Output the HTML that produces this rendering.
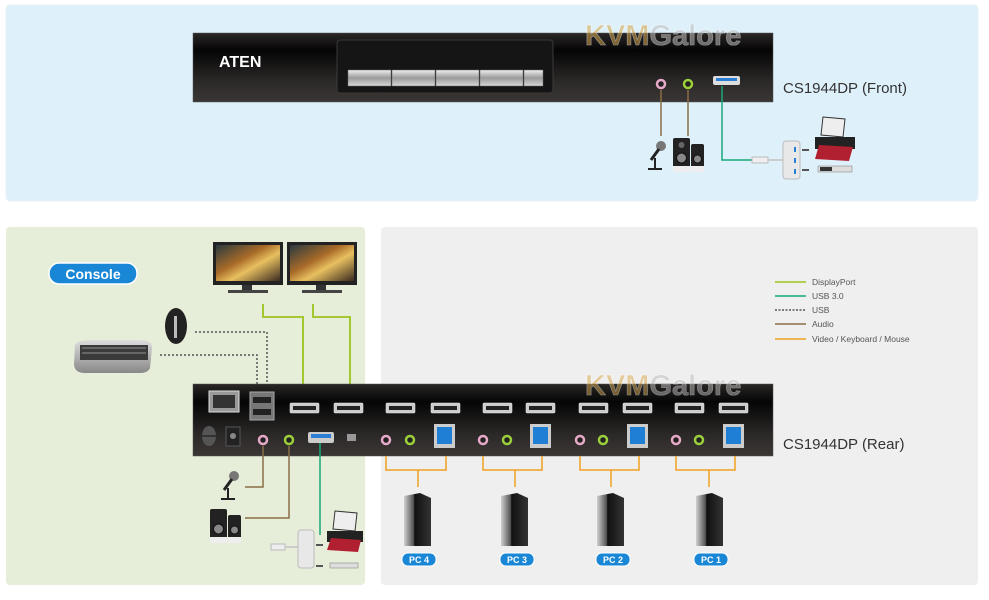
<!DOCTYPE html>
<html><head><meta charset="utf-8"><style>
html,body{margin:0;padding:0;background:#fff;width:989px;height:600px;overflow:hidden}
svg{display:block}
text{font-family:"Liberation Sans",sans-serif}
</style></head><body>
<svg width="989" height="600" viewBox="0 0 989 600" xmlns="http://www.w3.org/2000/svg">
<defs>
<linearGradient id="dev" x1="0" y1="0" x2="0" y2="1">
<stop offset="0" stop-color="#2a2726"/><stop offset="0.25" stop-color="#050505"/><stop offset="0.7" stop-color="#2b2928"/><stop offset="1" stop-color="#3a3634"/></linearGradient>
<linearGradient id="btn" x1="0" y1="0" x2="0" y2="1"><stop offset="0" stop-color="#f0f0f0"/><stop offset="0.5" stop-color="#9a9a9a"/><stop offset="1" stop-color="#d8d8d8"/></linearGradient>
<linearGradient id="mon" x1="0" y1="0" x2="1" y2="1"><stop offset="0" stop-color="#2a3a40"/><stop offset="0.4" stop-color="#a86a28"/><stop offset="0.6" stop-color="#e8c060"/><stop offset="1" stop-color="#3a2a20"/></linearGradient>
<linearGradient id="pc" x1="0" y1="0" x2="1" y2="0"><stop offset="0" stop-color="#d0d0d0"/><stop offset="0.35" stop-color="#555"/><stop offset="0.4" stop-color="#111"/><stop offset="1" stop-color="#333"/></linearGradient>
<linearGradient id="kb" x1="0" y1="0" x2="0" y2="1"><stop offset="0" stop-color="#ddd"/><stop offset="1" stop-color="#888"/></linearGradient>
</defs>

<rect x="6" y="5" width="972" height="196" rx="4" fill="#def1fb" stroke="#e8f0f4"/>
<rect x="6" y="227" width="359" height="358" rx="4" fill="#e6eed9"/>
<rect x="381" y="227" width="597" height="358" rx="4" fill="#efefef"/>

<rect x="193" y="33" width="580" height="69" fill="url(#dev)" stroke="#555" stroke-width="0.5"/>
<rect x="337" y="40" width="216" height="53" rx="3" fill="#161515" stroke="#3a3a3a"/>
<g fill="url(#btn)" stroke="#666" stroke-width="0.5">
<rect x="348" y="70" width="43" height="16"/><rect x="392" y="70" width="43" height="16"/><rect x="436" y="70" width="43" height="16"/><rect x="480" y="70" width="43" height="16"/><rect x="524" y="70" width="19" height="16"/>
</g>
<text x="219" y="67" font-size="16" font-weight="bold" fill="#fff">ATEN</text>
<circle cx="661" cy="84" r="4" fill="#222" stroke="#e8a9c8" stroke-width="2.5"/>
<circle cx="688" cy="84" r="4" fill="#222" stroke="#9ccf3a" stroke-width="2.5"/>
<rect x="713" y="76" width="27" height="9" rx="2" fill="#ddd"/><rect x="716" y="78" width="21" height="3" fill="#2a7fd4"/>
<text x="585" y="45" font-size="29" font-weight="bold" fill="#d8a648" opacity="0.55" stroke="#fff" stroke-width="0.6">KVM<tspan fill="#bbb">Galore</tspan></text>
<text x="783" y="93" font-size="15" fill="#333">CS1944DP (Front)</text>
<line x1="661" y1="90" x2="661" y2="136" stroke="#8b6d47" stroke-width="1.5"/>
<line x1="688" y1="90" x2="688" y2="136" stroke="#8b6d47" stroke-width="1.5"/>
<polyline points="722,86 722,160 752,160" fill="none" stroke="#19a77a" stroke-width="1.5"/>
<g transform="translate(645,138)"><circle cx="16" cy="8" r="5" fill="#777"/><line x1="14" y1="11" x2="6" y2="22" stroke="#222" stroke-width="3"/><line x1="10" y1="20" x2="10" y2="31" stroke="#222" stroke-width="2"/><rect x="3" y="30" width="14" height="2" fill="#222"/></g>
<g transform="translate(673,138)"><rect x="0" y="0" width="17" height="34" rx="2" fill="#222"/><circle cx="8.5" cy="20" r="5" fill="#888" stroke="#111"/><circle cx="8.5" cy="7" r="3" fill="#666"/><rect x="0" y="28" width="17" height="6" fill="#eee"/><rect x="18" y="6" width="13" height="28" rx="2" fill="#222"/><circle cx="24.5" cy="21" r="4" fill="#888" stroke="#111"/><rect x="18" y="28" width="13" height="6" fill="#eee"/></g>
<rect x="752" y="157" width="16" height="6" fill="#eee" stroke="#bbb"/><line x1="768" y1="160" x2="783" y2="160" stroke="#ccc" stroke-width="2"/>
<rect x="783" y="141" width="17" height="38" rx="3" fill="#e8e8e8" stroke="#bbb"/>
<g fill="#2a7fd4"><rect x="794" y="147" width="2" height="5"/><rect x="794" y="158" width="2" height="5"/><rect x="794" y="169" width="2" height="5"/></g>
<line x1="802" y1="150" x2="809" y2="150" stroke="#555" stroke-width="2"/><line x1="802" y1="170" x2="809" y2="170" stroke="#555" stroke-width="2"/>
<g transform="translate(815,117)"><polygon points="8,0 30,2 28,20 6,18" fill="#eee" stroke="#333"/><rect x="0" y="20" width="40" height="12" fill="#222"/><polygon points="4,28 38,30 34,44 0,42" fill="#b02030"/></g>
<rect x="818" y="166" width="34" height="6" fill="#ddd" stroke="#777" stroke-width="0.5"/><rect x="820" y="167" width="12" height="4" fill="#333"/>

<rect x="49" y="263" width="88" height="21" rx="10" fill="#1a87d6" stroke="#fff" stroke-width="1.5"/>
<text x="93" y="279" font-size="14" font-weight="bold" fill="#fff" text-anchor="middle">Console</text>
<g><rect x="213" y="242" width="70" height="43" fill="#222"/><rect x="216" y="245" width="64" height="36" fill="url(#mon)"/><rect x="242" y="285" width="10" height="5" fill="#333"/><rect x="228" y="290" width="40" height="3" fill="#444"/>
<rect x="287" y="242" width="70" height="43" fill="#222"/><rect x="290" y="245" width="64" height="36" fill="url(#mon)"/><rect x="316" y="285" width="10" height="5" fill="#333"/><rect x="302" y="290" width="40" height="3" fill="#444"/></g>
<ellipse cx="176" cy="326" rx="11" ry="18" fill="#222"/><rect x="174" y="316" width="3" height="22" fill="#bbb"/>
<path d="M75 345 Q78 340 90 340 L140 340 Q152 340 152 348 L150 368 Q148 373 140 373 L85 373 Q75 373 74 365 Z" fill="url(#kb)"/><rect x="80" y="345" width="68" height="15" fill="#3a3a3a"/><rect x="82" y="347" width="64" height="2" fill="#666"/><rect x="82" y="352" width="64" height="2" fill="#666"/>
<polyline points="195,332 267,332 267,392" fill="none" stroke="#555" stroke-width="1.5" stroke-dasharray="2,2"/>
<polyline points="160,355 257,355 257,392" fill="none" stroke="#555" stroke-width="1.5" stroke-dasharray="2,2"/>
<polyline points="263,304 263,317 303,317 303,404" fill="none" stroke="#9cc31c" stroke-width="1.8"/>
<polyline points="313,304 313,317 350,317 350,404" fill="none" stroke="#9cc31c" stroke-width="1.8"/>

<g stroke-width="1.5">
<line x1="775" y1="282" x2="806" y2="282" stroke="#9cc31c"/>
<line x1="775" y1="296" x2="806" y2="296" stroke="#19a77a"/>
<line x1="775" y1="310" x2="806" y2="310" stroke="#555" stroke-dasharray="2,1.5"/>
<line x1="775" y1="324" x2="806" y2="324" stroke="#8b6d47"/>
<line x1="775" y1="339" x2="806" y2="339" stroke="#f0a020"/>
</g>
<g font-size="8.5" fill="#555"><text x="812" y="285">DisplayPort</text><text x="812" y="299">USB 3.0</text><text x="812" y="313">USB</text><text x="812" y="327">Audio</text><text x="812" y="342">Video / Keyboard / Mouse</text></g>

<rect x="193" y="384" width="580" height="72" fill="url(#dev)" stroke="#555" stroke-width="0.5"/>
<text x="585" y="395" font-size="29" font-weight="bold" fill="#d8a648" opacity="0.5" stroke="#fff" stroke-width="0.6">KVM<tspan fill="#bbb">Galore</tspan></text>
<rect x="209" y="391" width="30" height="21" fill="#999" stroke="#ddd"/><rect x="213" y="395" width="22" height="13" fill="#333"/>
<rect x="250" y="392" width="24" height="28" fill="#777" stroke="#aaa"/><rect x="253" y="397" width="18" height="6" fill="#222"/><rect x="253" y="409" width="18" height="6" fill="#222"/>
<g fill="#ccc" stroke="#eee" stroke-width="0.5">
<rect x="290" y="403" width="29" height="10" rx="1"/><rect x="334" y="403" width="29" height="10" rx="1"/>
<rect x="386" y="403" width="29" height="10" rx="1"/><rect x="431" y="403" width="29" height="10" rx="1"/>
<rect x="483" y="403" width="29" height="10" rx="1"/><rect x="526" y="403" width="29" height="10" rx="1"/>
<rect x="579" y="403" width="29" height="10" rx="1"/><rect x="623" y="403" width="29" height="10" rx="1"/>
<rect x="675" y="403" width="29" height="10" rx="1"/><rect x="719" y="403" width="29" height="10" rx="1"/>
</g>
<g fill="#222"><rect x="293" y="406" width="23" height="4"/><rect x="337" y="406" width="23" height="4"/><rect x="389" y="406" width="23" height="4"/><rect x="434" y="406" width="23" height="4"/><rect x="486" y="406" width="23" height="4"/><rect x="529" y="406" width="23" height="4"/><rect x="582" y="406" width="23" height="4"/><rect x="626" y="406" width="23" height="4"/><rect x="678" y="406" width="23" height="4"/><rect x="722" y="406" width="23" height="4"/></g>
<ellipse cx="209" cy="436" rx="7" ry="10" fill="#555"/><line x1="202" y1="436" x2="216" y2="436" stroke="#111"/>
<rect x="226" y="427" width="14" height="19" fill="#222" stroke="#555"/><circle cx="233" cy="436" r="3" fill="#888"/>
<rect x="308" y="432" width="26" height="11" rx="2" fill="#ccc"/><rect x="311" y="434" width="20" height="4" fill="#2a7fd4"/>
<rect x="347" y="434" width="9" height="7" fill="#999"/>
<g fill="#222" stroke-width="2.5">
<circle cx="263" cy="440" r="4" stroke="#e8a9c8"/><circle cx="289" cy="440" r="4" stroke="#9ccf3a"/>
<circle cx="386" cy="440" r="4" stroke="#e8a9c8"/><circle cx="410" cy="440" r="4" stroke="#9ccf3a"/>
<circle cx="483" cy="440" r="4" stroke="#e8a9c8"/><circle cx="507" cy="440" r="4" stroke="#9ccf3a"/>
<circle cx="580" cy="440" r="4" stroke="#e8a9c8"/><circle cx="603" cy="440" r="4" stroke="#9ccf3a"/>
<circle cx="676" cy="440" r="4" stroke="#e8a9c8"/><circle cx="699" cy="440" r="4" stroke="#9ccf3a"/>
</g>
<g><rect x="434" y="424" width="21" height="24" fill="#ccc"/><rect x="437" y="427" width="15" height="17" fill="#1f7fd4"/>
<rect x="530" y="424" width="21" height="24" fill="#ccc"/><rect x="533" y="427" width="15" height="17" fill="#1f7fd4"/>
<rect x="627" y="424" width="21" height="24" fill="#ccc"/><rect x="630" y="427" width="15" height="17" fill="#1f7fd4"/>
<rect x="723" y="424" width="21" height="24" fill="#ccc"/><rect x="726" y="427" width="15" height="17" fill="#1f7fd4"/></g>
<text x="783" y="449" font-size="15" fill="#333">CS1944DP (Rear)</text>

<polyline points="263,446 263,487 245,487" fill="none" stroke="#8b6d47" stroke-width="1.5"/>
<polyline points="289,446 289,518 245,518" fill="none" stroke="#8b6d47" stroke-width="1.5"/>
<line x1="320" y1="443" x2="320" y2="535" stroke="#19a77a" stroke-width="1.5"/>
<g transform="translate(218,468)"><circle cx="16" cy="8" r="5" fill="#777"/><line x1="14" y1="11" x2="6" y2="22" stroke="#222" stroke-width="3"/><line x1="10" y1="20" x2="10" y2="31" stroke="#222" stroke-width="2"/><rect x="3" y="30" width="14" height="2" fill="#222"/></g>
<g transform="translate(210,509)"><rect x="0" y="0" width="17" height="34" rx="2" fill="#222"/><circle cx="8.5" cy="20" r="5" fill="#888" stroke="#111"/><rect x="0" y="28" width="17" height="6" fill="#eee"/><rect x="18" y="6" width="13" height="28" rx="2" fill="#222"/><circle cx="24.5" cy="21" r="4" fill="#888" stroke="#111"/><rect x="18" y="28" width="13" height="6" fill="#eee"/></g>
<rect x="271" y="544" width="14" height="6" fill="#eee" stroke="#bbb"/><line x1="285" y1="547" x2="298" y2="547" stroke="#ccc" stroke-width="2"/>
<rect x="298" y="530" width="16" height="38" rx="3" fill="#e8e8e8" stroke="#bbb"/>
<line x1="316" y1="545" x2="323" y2="545" stroke="#555" stroke-width="2"/><line x1="316" y1="566" x2="323" y2="566" stroke="#555" stroke-width="2"/>
<g transform="translate(327,511)"><polygon points="8,0 30,2 28,20 6,18" fill="#eee" stroke="#333"/><rect x="0" y="20" width="36" height="11" fill="#222"/><polygon points="4,27 34,29 31,41 0,39" fill="#b02030"/></g>
<rect x="330" y="563" width="28" height="5" fill="#ddd" stroke="#777" stroke-width="0.5"/>

<g fill="none" stroke="#f0a020" stroke-width="1.5">
<polyline points="386,456 386,470 446,470 446,456"/><line x1="418" y1="470" x2="418" y2="487"/>
<polyline points="483,456 483,470 542,470 542,456"/><line x1="515" y1="470" x2="515" y2="487"/>
<polyline points="580,456 580,470 639,470 639,456"/><line x1="611" y1="470" x2="611" y2="487"/>
<polyline points="676,456 676,470 735,470 735,456"/><line x1="709" y1="470" x2="709" y2="487"/>
</g>
<g>
<polygon points="404,496 420,493 431,498 431,546 404,546" fill="url(#pc)"/>
<polygon points="501,496 517,493 528,498 528,546 501,546" fill="url(#pc)"/>
<polygon points="597,496 613,493 624,498 624,546 597,546" fill="url(#pc)"/>
<polygon points="696,496 712,493 723,498 723,546 696,546" fill="url(#pc)"/>
</g>
<g fill="#1a87d6" stroke="#fff" stroke-width="1">
<rect x="402" y="553" width="34" height="13" rx="6"/><rect x="500" y="553" width="34" height="13" rx="6"/><rect x="596" y="553" width="34" height="13" rx="6"/><rect x="694" y="553" width="34" height="13" rx="6"/>
</g>
<g font-size="9" font-weight="bold" fill="#fff" text-anchor="middle">
<text x="419" y="563">PC 4</text><text x="517" y="563">PC 3</text><text x="613" y="563">PC 2</text><text x="711" y="563">PC 1</text>
</g>
</svg>
</body></html>
